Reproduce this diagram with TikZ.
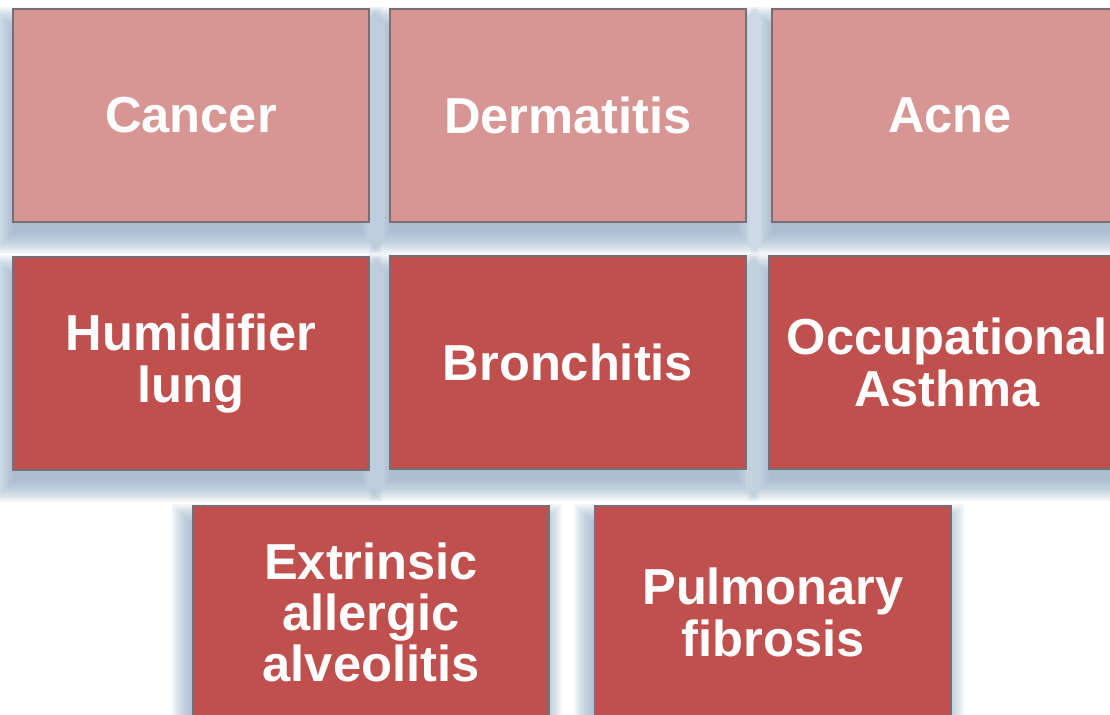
\documentclass[tikz,border=0pt]{standalone}
\usepackage{fontspec}
\setmainfont{Liberation Sans}
\usetikzlibrary{calc,backgrounds}
\definecolor{HazardLight}{HTML}{D79594}
\definecolor{HazardDark}{HTML}{C0504D}
\definecolor{HazardBorder}{HTML}{7A6E74}
\definecolor{HazardShadow}{HTML}{8FA8C4}

\begin{document}
\begin{tikzpicture}[x=0.5pt,y=-0.5pt,
 font=\fontsize{25.3}{25.6}\selectfont\bfseries,
 tile/.style={draw=HazardBorder,line width=0.6pt,text=white,align=center,
 minimum width=178pt,minimum height=106.5pt,inner sep=0pt},
 skin/.style={tile,fill=HazardLight},
 lung/.style={tile,fill=HazardDark}]
\useasboundingbox (0,0) rectangle (1110,715);
% skin conditions
\node[skin] (cancer) at (191,115.5) {Cancer};
\node[skin] (derm) at (568,115.5) {Dermatitis};
\node[skin] (acne) at (950,115.5) {Acne};
% lung conditions
\node[lung] (humid) at (191,363.5) {Humidifier\\lung};
\node[lung] (bronch) at (568,362.5) {Bronchitis};
\node[lung] (asthma) at (947,362.5) {Occupational\\Asthma};
\node[lung] (alveo) at (371,612.5) {Extrinsic\\allergic\\alveolitis};
\node[lung] (fibro) at (773,612.5) {Pulmonary\\fibrosis};
% soft shadows
\begin{scope}[on background layer]
\clip (0,0) rectangle (1110,715);
\fill[white] (0,0) rectangle (1110,715);
\foreach \n in {cancer,derm,acne,humid,bronch,asthma,alveo,fibro}
 \foreach \d in {-6,-4,...,16}
 \fill[HazardShadow,opacity=0.1]
 ($(\n.north west)+(-4-\d,15-\d)$) rectangle ($(\n.south east)+(-4+\d,15+\d)$);
\end{scope}
\end{tikzpicture}
\end{document}
